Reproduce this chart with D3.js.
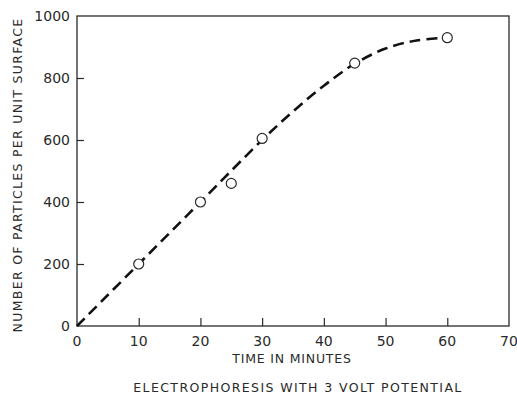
<!DOCTYPE html>
<html>
<head>
<meta charset="utf-8">
<script src="https://cdn.jsdelivr.net/npm/d3@7"></script>
<style>
  body { margin: 0; background: #fff; }
  svg { display: block; }
  text { font-family: "DejaVu Sans", sans-serif; fill: #2a2a2a; }
</style>
</head>
<body>
<svg id="chart" width="517" height="396"></svg>
<script>
// measured points
var times = [10, 20, 25, 30, 45, 60];
var counts = [200, 400, 460, 605, 848, 930];
// dashed fitted curve
var curveT = [0, 10, 20, 30, 35, 40, 45, 50, 55, 60];
var curveN = [0, 200, 400, 600, 692, 775, 846, 895, 921, 930];

var xTicks = [0, 10, 20, 30, 40, 50, 60, 70];
var yTicks = [0, 200, 400, 600, 800, 1000];

var svg = d3.select("#chart");
var x = d3.scaleLinear().domain([0, 70]).range([77, 509]);
var y = d3.scaleLinear().domain([0, 1000]).range([326, 16]);

var ink = "#2a2a2a";

// frame
svg.append("rect")
  .attr("x", x(0)).attr("y", y(1000))
  .attr("width", x(70) - x(0)).attr("height", y(0) - y(1000))
  .attr("fill", "none").attr("stroke", ink).attr("stroke-width", 1.3);

// x axis, ticks point inward
var xAxis = d3.axisTop(x).tickValues(xTicks.slice(1, -1)).tickSize(8).tickFormat("");
svg.append("g").attr("transform", "translate(0," + y(0) + ")").call(xAxis)
  .call(function(g) { g.select(".domain").remove(); })
  .selectAll("line").attr("stroke", ink).attr("stroke-width", 1.2);

var yAxis = d3.axisRight(y).tickValues(yTicks.slice(1, -1)).tickSize(7).tickFormat("");
svg.append("g").attr("transform", "translate(" + x(0) + ",0)").call(yAxis)
  .call(function(g) { g.select(".domain").remove(); })
  .selectAll("line").attr("stroke", ink).attr("stroke-width", 1.2);

// tick labels
svg.selectAll(".xl").data(xTicks).enter().append("text")
  .attr("x", function(d) { return x(d); })
  .attr("y", y(0) + 20)
  .attr("text-anchor", "middle")
  .attr("font-size", 14)
  .text(function(d) { return d; });

svg.selectAll(".yl").data(yTicks).enter().append("text")
  .attr("x", x(0) - 7)
  .attr("y", function(d) { return y(d) + 5; })
  .attr("text-anchor", "end")
  .attr("font-size", 14)
  .text(function(d) { return d; });

// curve
var line = d3.line()
  .x(function(d) { return x(d[0]); })
  .y(function(d) { return y(d[1]); })
  .curve(d3.curveCatmullRom);

svg.append("path")
  .datum(d3.zip(curveT, curveN))
  .attr("d", line)
  .attr("fill", "none")
  .attr("stroke", "#111")
  .attr("stroke-width", 2.6)
  .attr("stroke-dasharray", "11,6");

// points
svg.selectAll(".pt").data(d3.zip(times, counts)).enter().append("circle")
  .attr("cx", function(d) { return x(d[0]); })
  .attr("cy", function(d) { return y(d[1]); })
  .attr("r", 5)
  .attr("fill", "#fff")
  .attr("stroke", ink)
  .attr("stroke-width", 1.2);

// labels
svg.append("text")
  .attr("transform", "translate(22," + ((y(0) + y(1000)) / 2 + 4) + ") rotate(-90)")
  .attr("text-anchor", "middle")
  .attr("font-size", 12.5)
  .attr("letter-spacing", 1.3)
  .text("NUMBER OF PARTICLES PER UNIT SURFACE");

svg.append("text")
  .attr("x", 292).attr("y", 363)
  .attr("text-anchor", "middle")
  .attr("font-size", 12.5)
  .attr("letter-spacing", 0.8)
  .text("TIME IN MINUTES");

svg.append("text")
  .attr("x", 298).attr("y", 392)
  .attr("text-anchor", "middle")
  .attr("font-size", 12.5)
  .attr("letter-spacing", 1.4)
  .text("ELECTROPHORESIS WITH 3 VOLT POTENTIAL");
</script>
</body>
</html>
